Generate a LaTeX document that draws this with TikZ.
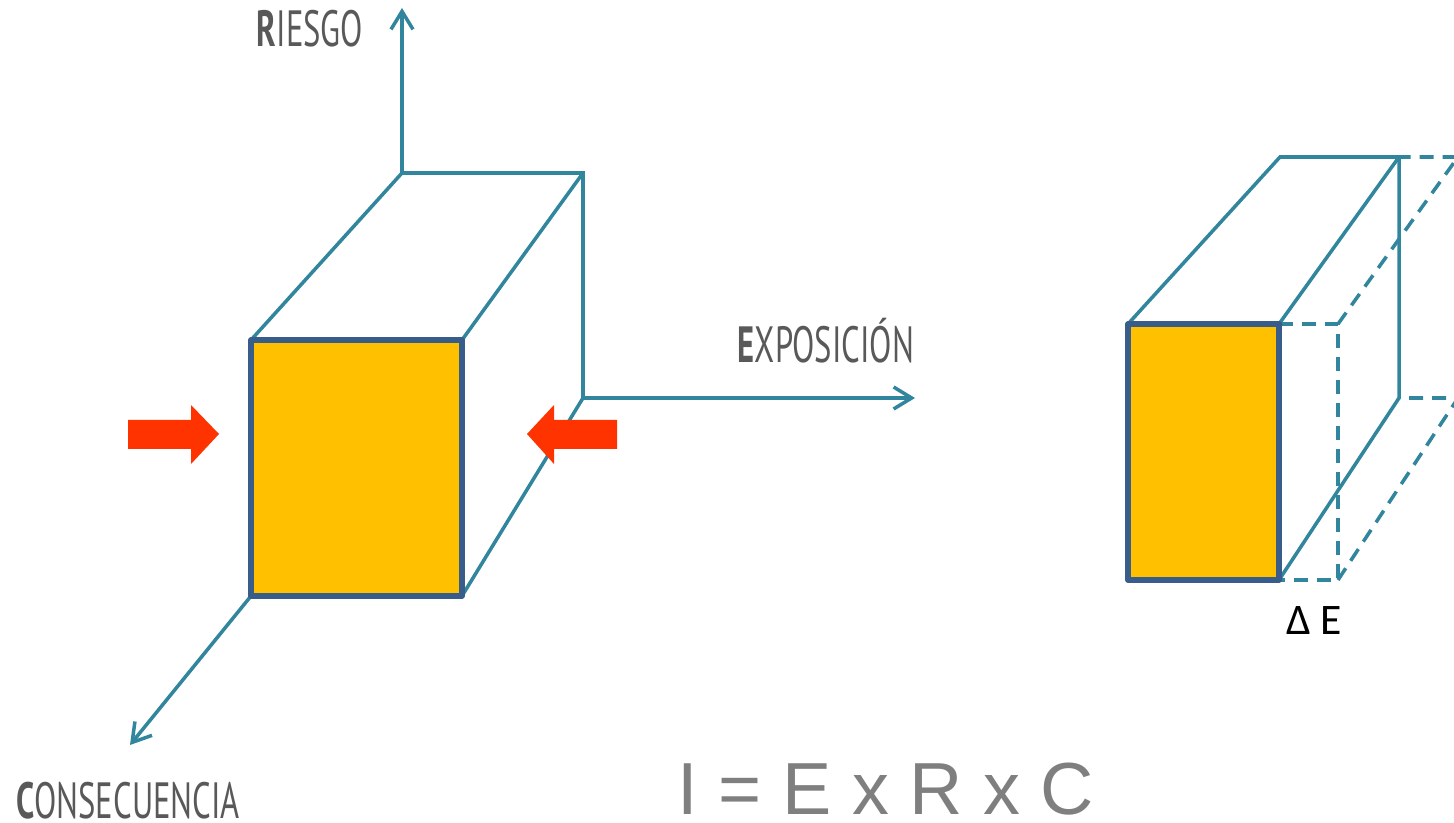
\documentclass[tikz,border=0pt]{standalone}
\usepackage{fontspec}
\usepackage{tikz}
\usepackage{xcolor}
\usetikzlibrary{arrows.meta}
\newfontfamily\axisfont{PT Sans}
\newfontfamily\formulafont{Liberation Sans}
\newfontfamily\deltafont{Carlito}
\definecolor{axisteal}{HTML}{31859C}
\definecolor{faceblue}{HTML}{385D8A}
\definecolor{facefill}{HTML}{FFC000}
\definecolor{pushred}{HTML}{FF3300}
\definecolor{labelgray}{HTML}{595959}
\definecolor{formulagray}{HTML}{7F7F7F}
\newcommand{\axislabel}[2]{\scalebox{0.64}[1]{\textbf{#1}#2}}

\begin{document}
\begin{tikzpicture}[edge/.style={axisteal, line width=1pt},
  axis/.style={edge, -{Straight Barb[length=1.8mm,width=2.2mm]}},
  ghost/.style={edge, dash pattern=on 1.4mm off 0.9mm},
  face/.style={draw=faceblue, fill=facefill, line width=1.5pt, line join=round},
  push/.style={fill=pushred},
  lbl/.style={inner sep=0pt, anchor=base, text=labelgray, font=\axisfont\fontsize{14.5}{15}\selectfont}]
\useasboundingbox (0,0) rectangle (14.54,-8.23);
% left box
\coordinate (A1) at (2.51,-3.40);
\coordinate (A2) at (4.62,-3.40);
\coordinate (A3) at (4.62,-5.96);
\coordinate (A4) at (2.51,-5.96);
\coordinate (B1) at (4.02,-1.73);
\coordinate (B2) at (5.83,-1.73);
\coordinate (B3) at (5.83,-3.98);
\coordinate (R) at (4.02,-0.08);
\coordinate (E) at (9.15,-3.98);
\coordinate (C) at (1.30,-7.45);
\draw[edge] (A1) -- (B1) -- (B2) -- (B3);
\draw[edge] (A2) -- (B2);
\draw[edge] (A3) -- (B3);
\draw[axis] (B1) -- (R);
\draw[axis] (B3) -- (E);
\draw[axis] (A4) -- (C);
\draw[face] (A1) rectangle (A3);
% pushing arrows
\fill[push] (1.28,-4.20) -- (1.91,-4.20) -- (1.91,-4.05) -- (2.19,-4.34) -- (1.91,-4.64) -- (1.91,-4.49) -- (1.28,-4.49) -- cycle;
\fill[push] (6.17,-4.20) -- (5.54,-4.20) -- (5.54,-4.05) -- (5.27,-4.34) -- (5.54,-4.64) -- (5.54,-4.49) -- (6.17,-4.49) -- cycle;
% labels
\node[lbl] (riesgo) at (3.10,-0.47) {\axislabel{R}{IESGO}};
\node[lbl] (expo) at (8.26,-3.63) {\axislabel{E}{XPOSICIÓN}};
\node[lbl] (conse) at (1.28,-8.18) {\axislabel{C}{ONSECUENCIA}};
% right box
\coordinate (P1) at (11.28,-3.24);
\coordinate (P2) at (12.79,-3.24);
\coordinate (P3) at (12.79,-5.80);
\coordinate (P4) at (11.28,-5.80);
\coordinate (Q1) at (12.80,-1.57);
\coordinate (Q2) at (13.99,-1.57);
\coordinate (Q3) at (13.99,-3.98);
\coordinate (G2) at (13.38,-3.24);
\coordinate (G3) at (13.38,-5.80);
\coordinate (H2) at (14.58,-1.57);
\coordinate (H3) at (14.58,-3.98);
\begin{scope}
\clip (0,0) rectangle (14.54,-8.23);
\draw[ghost] (P2) -- (G2) -- (G3) -- (P3);
\draw[ghost] (G2) -- (H2) -- (Q2);
\draw[ghost] (G3) -- (H3) -- (Q3);
\end{scope}
\draw[edge] (P1) -- (Q1) -- (Q2) -- (Q3) -- (P3);
\draw[edge] (P2) -- (Q2);
\draw[face] (P1) rectangle (P3);
\node[inner sep=0pt, anchor=base, font=\deltafont\fontsize{12.4}{13}\selectfont] (dE) at (13.14,-6.35) {Δ E};
% formula
\node[inner sep=0pt, anchor=base, text=formulagray, font=\formulafont\fontsize{21}{22}\selectfont] (formula) at (8.86,-8.14) {I = E x R x C};
\end{tikzpicture}
\end{document}
